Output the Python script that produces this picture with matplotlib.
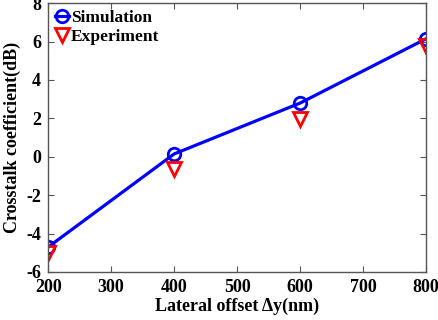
import matplotlib.pyplot as plt
import numpy as np

# lateral offset (nm) and crosstalk (dB)
offset = [200, 400, 600, 800]
sim = [-4.7, 0.15, 2.8, 6.15]
exp_ = [-5.0, -0.65, 1.95, 5.75]

plt.rcParams['font.family'] = ['Liberation Serif', 'DejaVu Serif']
plt.rcParams['font.weight'] = 'bold'
plt.rcParams['axes.unicode_minus'] = False

fig = plt.figure(figsize=(4.38, 3.2), dpi=100)
ax = fig.add_axes([0.110, 0.150, 0.863, 0.840])

ax.plot(offset, sim, 'b-o', lw=2.3, ms=9, mfc='none', mew=2, label='Simulation')
ax.plot(offset, exp_, 'rv', ms=10, mfc='none', mew=2, label='Experiment')

ax.set_xlim(200, 800)
ax.set_ylim(-6, 8)
ax.set_xticks(np.arange(200, 801, 100))
ax.set_yticks(np.arange(-6, 9, 2))
ax.tick_params(direction='in', top=True, right=True, labelsize=13, color='#555555',
               length=4, pad=5)
for s in ax.spines.values():
    s.set_color('#555555')
    s.set_linewidth(1)

ax.set_xlabel('Lateral offset \u0394y(nm)', fontsize=13, fontweight='bold', labelpad=1)
ax.set_ylabel('Crosstalk coefficient(dB)', fontsize=13, fontweight='bold', labelpad=4)

ax.legend(loc='upper left', frameon=False, fontsize=12.5, handlelength=0.8,
          handletextpad=0.1, borderaxespad=0.1, labelspacing=0.15, borderpad=0.3)

fig.savefig('out.png', dpi=100)
